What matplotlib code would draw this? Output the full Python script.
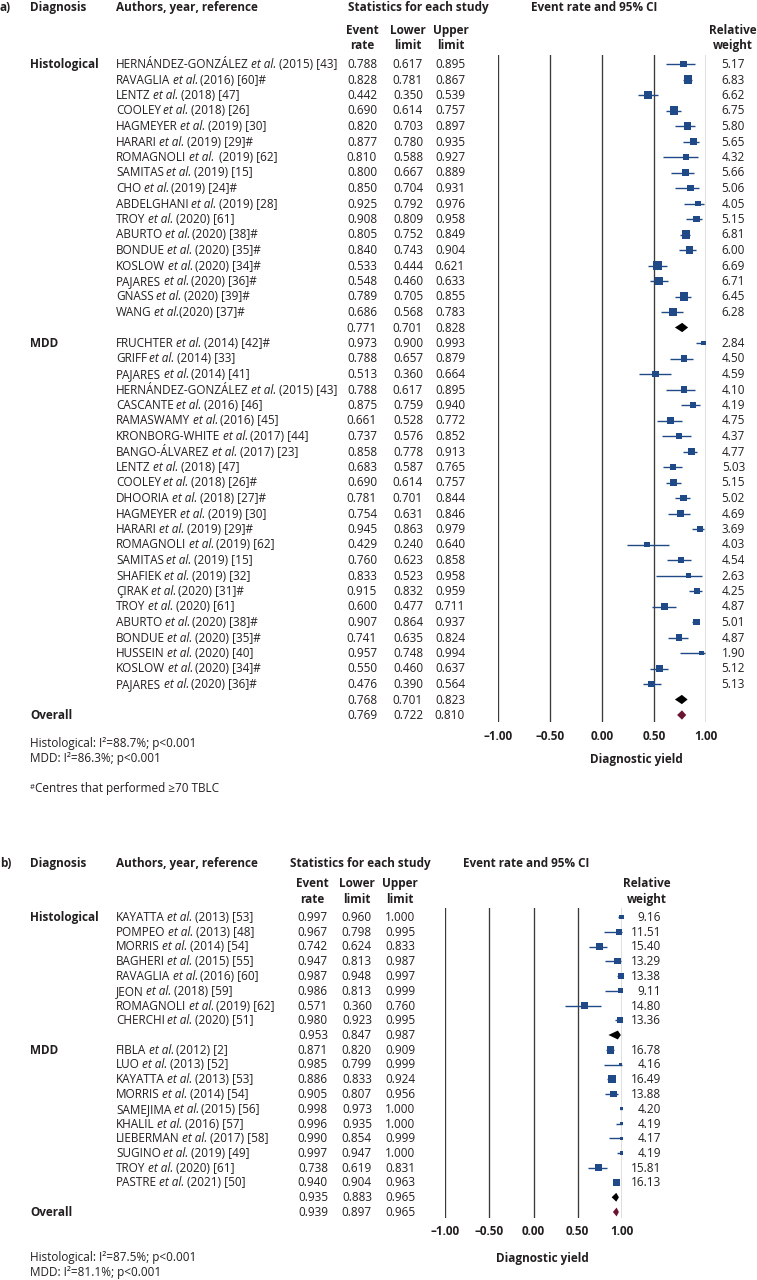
#!/usr/bin/env python3
"""Forest plots of diagnostic yield, histological vs MDD (panels a and b)."""

import matplotlib

matplotlib.use("Agg")
import matplotlib.pyplot as plt
from matplotlib import transforms

W, H = 757, 1280
FS = 8.5
BASE = 4  # px from visual centre of a text line down to its baseline
INK = "#231f20"
BLUE = "#1f4a87"
WINE = "#6b1631"
GRID = "#3a3a3a"

plt.rcParams["font.family"] = ["Open Sans", "DejaVu Sans"]
plt.rcParams["font.size"] = FS
plt.rcParams["text.color"] = INK

TICKS = [-1.0, -0.5, 0.0, 0.5, 1.0]
TICK_LABELS = ["\u20131.00", "\u20130.50", "0.00", "0.50", "1.00"]

# ---------------- panel a ----------------
a_hist_names = ["HERNÁNDEZ-GONZÁLEZ", "RAVAGLIA", "LENTZ", "COOLEY", "HAGMEYER", "HARARI",
                "ROMAGNOLI", "SAMITAS", "CHO", "ABDELGHANI", "TROY", "ABURTO", "BONDUE",
                "KOSLOW", "PAJARES", "GNASS", "WANG"]
a_hist_refs = [" (2015) [43]", " (2016) [60]#", " (2018) [47]", " (2018) [26]", " (2019) [30]",
               " (2019) [29]#", "  (2019) [62]", " (2019) [15]", " (2019) [24]#", " (2019) [28]",
               " (2020) [61]", " (2020) [38]#", " (2020) [35]#", " (2020) [34]#", " (2020) [36]#",
               " (2020) [39]#", "(2020) [37]#"]
a_hist_rate = [0.788, 0.828, 0.442, 0.690, 0.820, 0.877, 0.810, 0.800, 0.850, 0.925, 0.908,
               0.805, 0.840, 0.533, 0.548, 0.789, 0.686]
a_hist_lower = [0.617, 0.781, 0.350, 0.614, 0.703, 0.780, 0.588, 0.667, 0.704, 0.792, 0.809,
                0.752, 0.743, 0.444, 0.460, 0.705, 0.568]
a_hist_upper = [0.895, 0.867, 0.539, 0.757, 0.897, 0.935, 0.927, 0.889, 0.931, 0.976, 0.958,
                0.849, 0.904, 0.621, 0.633, 0.855, 0.783]
a_hist_weight = [5.17, 6.83, 6.62, 6.75, 5.80, 5.65, 4.32, 5.66, 5.06, 4.05, 5.15, 6.81, 6.00,
                 6.69, 6.71, 6.45, 6.28]
a_hist_pooled = [0.771, 0.701, 0.828]

a_mdd_names = ["FRUCHTER", "GRIFF", "PAJARES", "HERNÁNDEZ-GONZÁLEZ", "CASCANTE", "RAMASWAMY",
               "KRONBORG-WHITE", "BANGO-ÁLVAREZ", "LENTZ", "COOLEY", "DHOORIA", "HAGMEYER",
               "HARARI", "ROMAGNOLI", "SAMITAS", "SHAFIEK", "ÇIRAK", "TROY", "ABURTO", "BONDUE",
               "HUSSEIN", "KOSLOW", "PAJARES"]
a_mdd_refs = [" (2014) [42]#", " (2014) [33]", " (2014) [41]", " (2015) [43]", " (2016) [46]",
              " (2016) [45]", " (2017) [44]", " (2017) [23]", " (2018) [47]", " (2018) [26]#",
              " (2018) [27]#", " (2019) [30]", " (2019) [29]#", " (2019) [62]", " (2019) [15]",
              " (2019) [32]", " (2020) [31]#", " (2020) [61]", " (2020) [38]#", " (2020) [35]#",
              " (2020) [40]", " (2020) [34]#", " (2020) [36]#"]
a_mdd_rate = [0.973, 0.788, 0.513, 0.788, 0.875, 0.661, 0.737, 0.858, 0.683, 0.690, 0.781, 0.754,
              0.945, 0.429, 0.760, 0.833, 0.915, 0.600, 0.907, 0.741, 0.957, 0.550, 0.476]
a_mdd_lower = [0.900, 0.657, 0.360, 0.617, 0.759, 0.528, 0.576, 0.778, 0.587, 0.614, 0.701, 0.631,
               0.863, 0.240, 0.623, 0.523, 0.832, 0.477, 0.864, 0.635, 0.748, 0.460, 0.390]
a_mdd_upper = [0.993, 0.879, 0.664, 0.895, 0.940, 0.772, 0.852, 0.913, 0.765, 0.757, 0.844, 0.846,
               0.979, 0.640, 0.858, 0.958, 0.959, 0.711, 0.937, 0.824, 0.994, 0.637, 0.564]
a_mdd_weight = [2.84, 4.50, 4.59, 4.10, 4.19, 4.75, 4.37, 4.77, 5.03, 5.15, 5.02, 4.69, 3.69,
                4.03, 4.54, 2.63, 4.25, 4.87, 5.01, 4.87, 1.90, 5.12, 5.13]
a_mdd_pooled = [0.768, 0.701, 0.823]
a_overall = [0.769, 0.722, 0.810]
a_notes = ["Histological: I\u00b2=88.7%; p<0.001", "MDD: I\u00b2=86.3%; p<0.001"]

# ---------------- panel b ----------------
b_hist_names = ["KAYATTA", "POMPEO", "MORRIS", "BAGHERI", "RAVAGLIA", "JEON", "ROMAGNOLI", "CHERCHI"]
b_hist_refs = [" (2013) [53]", " (2013) [48]", " (2014) [54]", " (2015) [55]", " (2016) [60]",
               " (2018) [59]", " (2019) [62]", " (2020) [51]"]
b_hist_rate = [0.997, 0.967, 0.742, 0.947, 0.987, 0.986, 0.571, 0.980]
b_hist_lower = [0.960, 0.798, 0.624, 0.813, 0.948, 0.813, 0.360, 0.923]
b_hist_upper = [1.000, 0.995, 0.833, 0.987, 0.997, 0.999, 0.760, 0.995]
b_hist_weight = [9.16, 11.51, 15.40, 13.29, 13.38, 9.11, 14.80, 13.36]
b_hist_pooled = [0.953, 0.847, 0.987]

b_mdd_names = ["FIBLA", "LUO", "KAYATTA", "MORRIS", "SAMEJIMA", "KHALIL", "LIEBERMAN", "SUGINO",
               "TROY", "PASTRE"]
b_mdd_refs = [" (2012) [2]", " (2013) [52]", " (2013) [53]", " (2014) [54]", " (2015) [56]",
              " (2016) [57]", " (2017) [58]", " (2019) [49]", " (2020) [61]", " (2021) [50]"]
b_mdd_rate = [0.871, 0.985, 0.886, 0.905, 0.998, 0.996, 0.990, 0.997, 0.738, 0.940]
b_mdd_lower = [0.820, 0.799, 0.833, 0.807, 0.973, 0.935, 0.854, 0.947, 0.619, 0.904]
b_mdd_upper = [0.909, 0.999, 0.924, 0.956, 1.000, 1.000, 0.999, 1.000, 0.831, 0.963]
b_mdd_weight = [16.78, 4.16, 16.49, 13.88, 4.20, 4.19, 4.17, 4.19, 15.81, 16.13]
b_mdd_pooled = [0.935, 0.883, 0.965]
b_overall = [0.939, 0.897, 0.965]
b_notes = ["Histological: I\u00b2=87.5%; p<0.001", "MDD: I\u00b2=81.1%; p<0.001"]

# pixel layout of each panel
LAYOUT_A = dict(letter="a)", head_y=7, sub_y=(30, 45), row0=64, dy=15.5, axis_px=(498, 706),
                lines_px=(55, 722), tick_y=736, xlabel=(636, 759), cols=(377, 423, 465),
                sub_x=(362, 408, 451), weight_x=745, weight_head=733, stats_x=348, ci_x=531,
                notes_y=(743, 758), square=(2.4, 0.88))
LAYOUT_B = dict(letter="b)", head_y=863, sub_y=(883, 899), row0=917, dy=14.75, axis_px=(445, 622),
                lines_px=(908, 1218), tick_y=1231, xlabel=(542, 1258), cols=(328, 372, 415),
                sub_x=(312, 357, 400), weight_x=661, weight_head=647, stats_x=290, ci_x=463,
                notes_y=(1257, 1272), square=(1.5, 0.37))


def ftext(fig, x_px, y_px, s, **kw):
    return fig.text(x_px / W, 1 - (y_px + BASE) / H, s, va="baseline", **kw)


def text_width(fig, renderer, s, **kw):
    t = fig.text(0, 0, s, **kw)
    w = t.get_window_extent(renderer).width
    t.remove()
    return w


def author_line(fig, renderer, trans, x_px, row, name, ref, space):
    t = fig.text(x_px / W, row, name, transform=trans, va="baseline")
    x = x_px + t.get_window_extent(renderer).width + space
    t = fig.text(x / W, row, "et al.", transform=trans, va="baseline", style="italic")
    x += t.get_window_extent(renderer).width
    lead = len(ref) - len(ref.lstrip(" "))
    fig.text((x + lead * space) / W, row, ref.lstrip(" "), transform=trans, va="baseline")


def diamond(ax, row, est, lo, hi, color, half=0.3):
    ax.fill([lo, est, hi, est], [row, row - half, row, row + half], color=color, lw=0,
            zorder=4, clip_on=False)


def draw_panel(fig, renderer, lay, groups, overall, notes):
    x0, x1 = lay["axis_px"]
    top, bottom = lay["lines_px"]
    row0, dy = lay["row0"], lay["dy"]
    ax = fig.add_axes([x0 / W, 1 - bottom / H, (x1 - x0) / W, (bottom - top) / H])
    ax.set_xlim(-1, 1)
    ax.set_ylim((bottom - row0) / dy, (top - row0) / dy)
    ax.axis("off")
    for v in TICKS:
        ax.axvline(v, color=GRID, lw=0.95, zorder=1)

    rows_tr = transforms.blended_transform_factory(fig.transFigure, ax.transData)
    base_tr = transforms.offset_copy(rows_tr, fig=fig, y=-BASE, units="dots")
    tick_tr = transforms.blended_transform_factory(ax.transData, fig.transFigure)
    space = 0.8 * (text_width(fig, renderer, "a a") - text_width(fig, renderer, "aa"))

    # headers
    ftext(fig, 0, lay["head_y"], lay["letter"], fontweight="bold")
    ftext(fig, 30, lay["head_y"], "Diagnosis", fontweight="bold")
    ftext(fig, 116, lay["head_y"], "Authors, year, reference", fontweight="bold")
    ftext(fig, lay["stats_x"], lay["head_y"], "Statistics for each study", fontweight="bold")
    ftext(fig, lay["ci_x"], lay["head_y"], "Event rate and 95% CI", fontweight="bold")
    for xc, (l1, l2) in zip(lay["sub_x"], [("Event", "rate"), ("Lower", "limit"), ("Upper", "limit")]):
        ftext(fig, xc, lay["sub_y"][0], l1, fontweight="bold", ha="center")
        ftext(fig, xc, lay["sub_y"][1], l2, fontweight="bold", ha="center")
    ftext(fig, lay["weight_head"], lay["sub_y"][0], "Relative", fontweight="bold", ha="center")
    ftext(fig, lay["weight_head"], lay["sub_y"][1], "weight", fontweight="bold", ha="center")

    c0, c1 = lay["square"]
    row = 0
    for label, names, refs, rate, lower, upper, weight, pooled in groups:
        rows = list(range(row, row + len(names)))
        fig.text(30 / W, row, label, transform=base_tr, va="baseline", fontweight="bold")
        for r, n, rf, e, lo, hi, w in zip(rows, names, refs, rate, lower, upper, weight):
            author_line(fig, renderer, base_tr, 116, r, n, rf, space)
            for xc, v in zip(lay["cols"], (e, lo, hi)):
                fig.text(xc / W, r, f"{v:.3f}", transform=base_tr, va="baseline", ha="right")
            fig.text(lay["weight_x"] / W, r, f"{w:.2f}", transform=base_tr, va="baseline", ha="right")
        ax.hlines(rows, lower, upper, color=BLUE, lw=1.0, zorder=2, clip_on=False)
        sides = [(c0 + c1 * w) * 0.72 for w in weight]
        ax.scatter(rate, rows, s=[s * s for s in sides], marker="s", color=BLUE,
                   linewidths=0, zorder=3, clip_on=False)
        row += len(names)
        for xc, v in zip(lay["cols"], pooled):
            fig.text(xc / W, row, f"{v:.3f}", transform=base_tr, va="baseline", ha="right")
        diamond(ax, row, pooled[0], pooled[1], pooled[2], "black")
        row += 1

    fig.text(30 / W, row, "Overall", transform=base_tr, va="baseline", fontweight="bold")
    for xc, v in zip(lay["cols"], overall):
        fig.text(xc / W, row, f"{v:.3f}", transform=base_tr, va="baseline", ha="right")
    diamond(ax, row, overall[0], overall[1], overall[2], WINE)

    tick_y = 1 - (lay["tick_y"] + BASE) / H
    for v, lab in zip(TICKS, TICK_LABELS):
        ax.text(v, tick_y, lab, transform=tick_tr, ha="center", va="baseline", fontweight="bold")
    ftext(fig, lay["xlabel"][0], lay["xlabel"][1], "Diagnostic yield", fontweight="bold", ha="center")

    for y, s in zip(lay["notes_y"], notes):
        ftext(fig, 30, y, s)
    return ax


def main() -> None:
    fig = plt.figure(figsize=(W / 100, H / 100), dpi=100)
    renderer = fig.canvas.get_renderer()

    groups_a = [
        ("Histological", a_hist_names, a_hist_refs, a_hist_rate, a_hist_lower, a_hist_upper,
         a_hist_weight, a_hist_pooled),
        ("MDD", a_mdd_names, a_mdd_refs, a_mdd_rate, a_mdd_lower, a_mdd_upper,
         a_mdd_weight, a_mdd_pooled),
    ]
    groups_b = [
        ("Histological", b_hist_names, b_hist_refs, b_hist_rate, b_hist_lower, b_hist_upper,
         b_hist_weight, b_hist_pooled),
        ("MDD", b_mdd_names, b_mdd_refs, b_mdd_rate, b_mdd_lower, b_mdd_upper,
         b_mdd_weight, b_mdd_pooled),
    ]
    draw_panel(fig, renderer, LAYOUT_A, groups_a, a_overall, a_notes)
    draw_panel(fig, renderer, LAYOUT_B, groups_b, b_overall, b_notes)

    # footnote under panel a
    ftext(fig, 30, 785, "#", fontsize=FS * 0.65)
    ftext(fig, 35, 788, "Centres that performed \u226570 TBLC")

    fig.savefig("out.png", dpi=100)
    plt.close(fig)


if __name__ == "__main__":
    main()
